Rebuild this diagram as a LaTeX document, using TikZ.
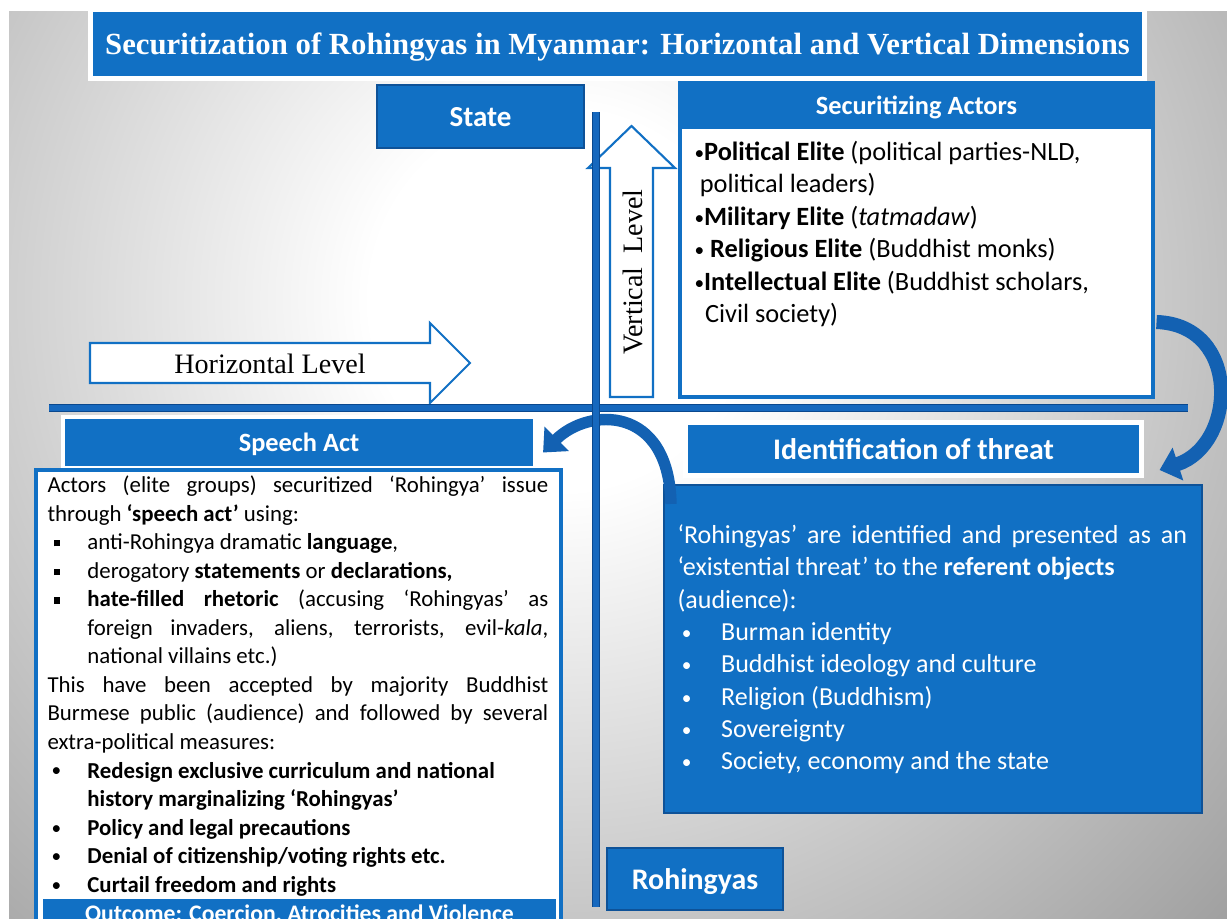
\documentclass[tikz,border=0pt]{standalone}
\usepackage{fontspec}
\setmainfont{Carlito}
\newfontfamily\titlefont{Liberation Serif}
\usetikzlibrary{arrows.meta,calc,shadows}
\definecolor{boxblue}{RGB}{17,112,196}
\definecolor{boxedge}{RGB}{14,82,152}
\definecolor{axisfill}{RGB}{22,104,190}
\definecolor{axisedge}{RGB}{10,72,142}
\definecolor{arrowblue}{RGB}{19,97,178}
\definecolor{bgdark}{RGB}{110,110,110}
\pgfdeclareradialshading{glow}{\pgfpoint{0bp}{0bp}}{color(0bp)=(white);color(5bp)=(white);color(34bp)=(bgdark);color(50bp)=(bgdark)}
\newcommand\smallbul{{\fontsize{11}{11}\selectfont\raisebox{0.6pt}{•}}}
\newcommand\sqitem{\par\hangindent=22.7pt\noindent\makebox[22.7pt][l]{\hspace{3.4pt}\rule[1.8pt]{3.6pt}{3.6pt}}}
\newcommand\dotitem[1][22.7pt]{\par\hangindent=#1\noindent\makebox[#1][l]{\hspace{2.4pt}\smallbul}}

\begin{document}
\begin{tikzpicture}[x=0.02cm,y=-0.02cm,semithick]
  \tikzstyle{bluebox}=[rectangle,fill=boxblue,draw=boxedge,line width=1.2pt,text=white,text depth=0pt,font=\bfseries\fontsize{17}{20}\selectfont]
  \tikzstyle{framed}=[bluebox,draw=white,line width=2.4pt,drop shadow={opacity=0.3,shadow xshift=1pt,shadow yshift=-1.5pt}]
  \tikzstyle{whitebox}=[rectangle,fill=white,draw=boxblue,line width=1.8pt]
  \tikzstyle{levelarrow}=[fill=white,draw=boxblue,line width=1.2pt]
  \tikzstyle{axis}=[draw=axisedge,double=axisfill,double distance=3pt,line width=1pt]
  \tikzstyle{bendarrow}=[draw=arrowblue,-{Triangle[width=19pt,length=11pt]}]
  \tikzstyle{body}=[inner sep=0pt,anchor=north west]

  \useasboundingbox (0,0) rectangle (1227,919);
  \begin{scope}
  \clip (0,0) rectangle (1227,919);
  \fill[white] (0,0) rectangle (1227,919);
  \begin{scope}
    \clip (9,12) rectangle (1227,919);
    \shade[shading=glow] (560,300) circle [radius=19cm];
  \end{scope}

  \node[framed,minimum width=21.08cm,minimum height=1.38cm,font=\titlefont\bfseries\fontsize{17.5}{21}\selectfont] (title) at (617.5,44) {Securitization of Rohingyas in Myanmar: Horizontal and Vertical Dimensions};
  \node[bluebox,minimum width=4.14cm,minimum height=1.26cm,font=\bfseries\fontsize{16.5}{20}\selectfont] (state) at (480.5,116.5) {State};

  \draw[levelarrow] (610,397) -- (610,168) -- (588,168) -- (631.5,126) -- (675,168) -- (653,168) -- (653,397) -- cycle;
  \node[rotate=90,font=\titlefont\fontsize{16}{19}\selectfont] (vlevel) at (633,272) {Vertical\ \ Level};
  \draw[levelarrow] (90,343) -- (430,343) -- (430,323) -- (470,363) -- (430,403) -- (430,383) -- (90,383) -- cycle;
  \node[font=\titlefont\fontsize{16}{19}\selectfont] (hlevel) at (270,364) {Horizontal Level};

  \node[whitebox,minimum width=9.46cm,minimum height=6.28cm] (actors) at (916.5,240) {};
  \node[bluebox,draw=boxblue,minimum width=9.46cm,minimum height=0.9cm,font=\bfseries\fontsize{15}{18}\selectfont] (actorshead) at (916.5,105.5) {Securitizing Actors};
  \node[body,align=left,font=\fontsize{15}{18.5}\selectfont] (actorstext) at (694,137) {\strut\smallbul\textbf{Political Elite} (political parties-NLD,\\\hspace*{3pt}political leaders)\\\smallbul\textbf{Military Elite} (\textit{tatmadaw})\\\smallbul\ \textbf{Religious Elite} (Buddhist monks)\\\smallbul\textbf{Intellectual Elite} (Buddhist scholars,\\\hspace*{6pt}Civil society)};

  \node[framed,minimum width=9.44cm,minimum height=1.02cm,font=\bfseries\fontsize{15}{18}\selectfont] (speechhead) at (299,442.5) {Speech Act};
  \node[whitebox,minimum width=10.5cm,minimum height=9.6cm] (speechbody) at (298.5,710) {};
  \node[body,text width=285pt,align=justify,font=\fontsize{13}{16.25}\selectfont] (speechtext) at (47,472) {\strut Actors (elite groups) securitized ‘Rohingya’ issue\linebreak through \textbf{‘speech act’} using:\sqitem anti-Rohingya dramatic \textbf{language},\sqitem derogatory \textbf{statements} or \textbf{declarations,}\sqitem \textbf{hate-filled rhetoric} (accusing ‘Rohingyas’ as\linebreak foreign invaders, aliens, terrorists, evil-\textit{kala},\linebreak national villains etc.)\par\noindent This have been accepted by majority Buddhist\linebreak Burmese public (audience) and followed by several\linebreak extra-political measures:\dotitem \textbf{Redesign exclusive curriculum and national\newline history marginalizing ‘Rohingyas’}\dotitem \textbf{Policy and legal precautions}\dotitem \textbf{Denial of citizenship/voting rights etc.}\dotitem \textbf{Curtail freedom and rights}\par};
  \node[bluebox,draw=white,line width=0.8pt,text depth=7pt,minimum width=10.3cm,minimum height=0.84cm,font=\bfseries\fontsize{13.5}{16}\selectfont] (outcome) at (299.5,919) {Outcome: Coercion, Atrocities and Violence};

  \node[framed,minimum width=9.12cm,minimum height=1.06cm] (identhead) at (913.5,449) {Identification of threat};
  \node[bluebox,minimum width=10.76cm,minimum height=6.56cm] (identbody) at (933,649) {};
  \node[body,text width=290pt,align=justify,text=white,font=\fontsize{14.8}{18.4}\selectfont] (identtext) at (677,520.3) {\strut‘Rohingyas’ are identified and presented as an\linebreak ‘existential threat’ to the \textbf{referent objects}\newline (audience):\dotitem[21.5pt] Burman identity\dotitem[21.5pt] Buddhist ideology and culture\dotitem[21.5pt] Religion (Buddhism)\dotitem[21.5pt] Sovereignty\dotitem[21.5pt] Society, economy and the state\par};

  \node[bluebox,minimum width=3.52cm,minimum height=1.24cm] (rohingyas) at (695,879) {Rohingyas};

  \draw[bendarrow,line width=8pt] ($(actors.east)+(2,82)$) .. controls +(85,3) and +(77,-25) .. ($(identhead.east)+(16,21)$);
  \draw[bendarrow,line width=6.5pt] ($(identbody.north west)+(8,20)$) .. controls +(-2,-100) and +(45,-45) .. ($(speechhead.east)+(6,10)$);

  \coordinate (vtop) at (596,112);
  \coordinate (vbot) at (596,907);
  \coordinate (hleft) at (49,408);
  \coordinate (hright) at (1188,408);
  \draw[axis] (hleft) -- (hright);
  \draw[axis] (vtop) -- (vbot);
  \end{scope}
\end{tikzpicture}
\end{document}
